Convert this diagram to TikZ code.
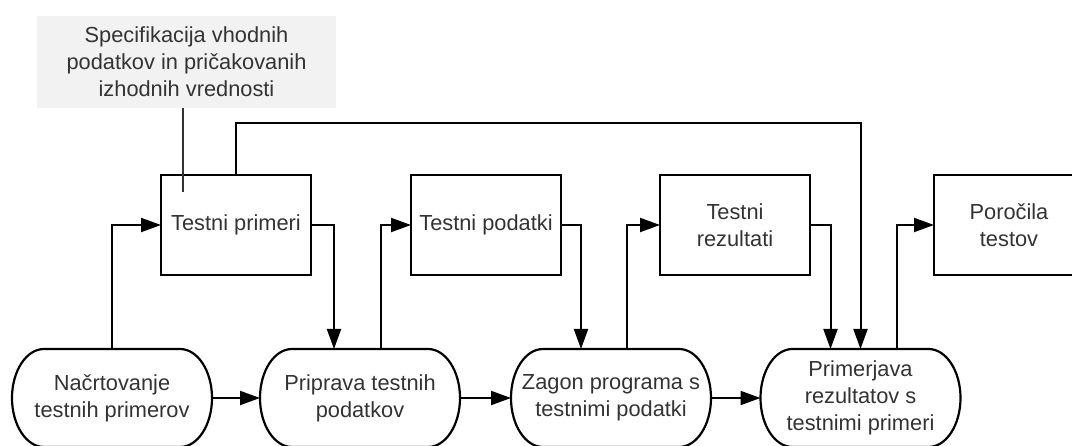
\documentclass[tikz,border=0pt]{standalone}
\usepackage{fontspec}
\setmainfont{Liberation Sans}
\usetikzlibrary{arrows.meta}
\definecolor{txt}{HTML}{333333}
\definecolor{notefill}{HTML}{F2F2F2}
\begin{document}
\begin{tikzpicture}[x=1pt,y=-1pt,
  every node/.style={font=\fontsize{21.8}{26.8}\selectfont, text=txt, align=center, inner sep=0pt, outer sep=0pt},
  box/.style={draw=black, line width=2.2pt, minimum width=150pt, minimum height=100pt},
  term/.style={minimum width=200pt, minimum height=98pt},
  note/.style={fill=notefill, minimum width=299pt, minimum height=92pt},
  outline/.style={draw=black, line width=2.2pt},
  link/.style={draw=black, line width=2pt, -{Triangle[length=20pt,width=14pt]}},
  lead/.style={draw=txt, line width=1.3pt}
]
\useasboundingbox (0,0) rectangle (1072,446);
\clip (0,0) rectangle (1072,446);

% annotation
\node[note] (note) at (186.5,62) {Specifikacija vhodnih\\podatkov in pričakovanih\\izhodnih vrednosti};

% artefacts
\node[box] (tp) at (236,225) {Testni primeri};
\node[box] (td) at (486,225) {Testni podatki};
\node[box] (tr) at (735,225) {Testni\\rezultati};
\node[box] (pt) at (1009,225) {Poročila\\testov};

% activities
\node[term] (n1) at (112,398) {Načrtovanje\\testnih primerov};
\node[term] (n2) at (360,398) {Priprava testnih\\podatkov};
\node[term] (n3) at (611,398) {Zagon programa s\\testnimi podatki};
\node[term] (n4) at (860.5,398) {Primerjava\\rezultatov s\\testnimi primeri};

% terminator outlines with elliptical ends
\foreach \n in {n1,n2,n3,n4}{
  \draw[outline] ([xshift=32pt]\n.north west) -- ([xshift=-32pt]\n.north east)
    arc[start angle=90,end angle=-90,x radius=32pt,y radius=49pt]
    -- ([xshift=32pt]\n.south west)
    arc[start angle=270,end angle=90,x radius=32pt,y radius=49pt] -- cycle;
}

% annotation leader
\coordinate (leadend) at (183,192);
\draw[lead] (note.south -| leadend) -- (leadend);

% flow between activities
\draw[link] (n1.east) -- (n2.west);
\draw[link] (n2.east) -- (n3.west);
\draw[link] (n3.east) -- (n4.west);

% activities to artefacts and back
\draw[link] (n1.north) |- (tp.west);
\draw[link] (tp.east) -| ([xshift=-26pt]n2.north);
\draw[link] ([xshift=21pt]n2.north) |- (td.west);
\draw[link] (td.east) -| ([xshift=-30pt]n3.north);
\draw[link] ([xshift=16pt]n3.north) |- (tr.west);
\draw[link] (tr.east) -| ([xshift=-30pt]n4.north);
\draw[link] ([xshift=36pt]n4.north) |- (pt.west);

% test cases feed the comparison
\coordinate (bus) at (550,123);
\draw[link] (tp.north) |- (bus) -| (n4.north);
\end{tikzpicture}
\end{document}
